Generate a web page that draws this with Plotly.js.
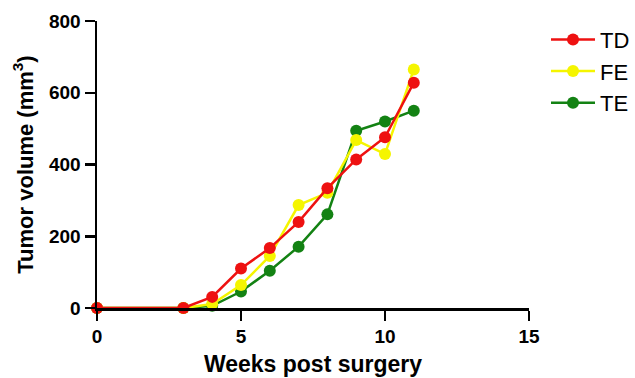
<!DOCTYPE html>
<html><head><meta charset="utf-8">
<script src="https://cdn.plot.ly/plotly-3.0.1.min.js"></script>
<style>html,body{margin:0;padding:0;background:#fff}</style>
</head><body>
<div id="chart" style="width:635px;height:378px"></div>
<script>
const weeks = [0, 3, 4, 5, 6, 7, 8, 9, 10, 11];
const TD = [0, 0, 31, 110, 167, 240, 334, 414, 476, 628];
const FE = [0, 0, 11, 64, 145, 287, 321, 468, 429, 665];
const TE = [0, 0, 6, 46, 104, 171, 261, 494, 520, 550];
const seriesNames = ['TE', 'FE', 'TD'];
const seriesColors = ['#138213', '#f5f500', '#ee1111'];
const seriesData = [TE, FE, TD];

const traces = seriesNames.map((n, i) => ({
  x: weeks, y: seriesData[i], name: n, type: 'scatter', mode: 'lines+markers',
  line: {color: seriesColors[i], width: 2.5},
  marker: {color: seriesColors[i], size: 12},
  cliponaxis: false
}));

const fontFam = 'Liberation Sans, Arial, sans-serif';
const layout = {
  width: 635, height: 378,
  margin: {l: 97, r: 0, t: 21, b: 70},
  paper_bgcolor: '#fff', plot_bgcolor: '#fff',
  showlegend: true,
  legend: {x: 1, y: 1.008, xanchor: 'right', yanchor: 'top', traceorder: 'reversed',
    font: {family: fontFam, size: 22, color: '#000'}, itemwidth: 44, borderwidth: 0},
  xaxis: {domain: [0, 432 / 538], range: [0, 15], tickvals: [0, 5, 10, 15], showgrid: false, zeroline: false,
    showline: true, linecolor: '#000', linewidth: 2.5, ticks: 'outside', ticklen: 10, tickwidth: 2.5, tickcolor: '#000',
    tickfont: {family: fontFam, size: 19, color: '#000', weight: 'bold'},
    title: {text: 'Weeks post surgery', font: {family: fontFam, size: 23, color: '#000', weight: 'bold'}, standoff: 10}},
  yaxis: {range: [0, 800], tickvals: [0, 200, 400, 600, 800], showgrid: false, zeroline: false,
    showline: true, linecolor: '#000', linewidth: 2.5, ticks: 'outside', ticklen: 10, tickwidth: 2.5, tickcolor: '#000',
    tickfont: {family: fontFam, size: 19, color: '#000', weight: 'bold'},
    title: {text: 'Tumor volume (mm<sup>3</sup>)', font: {family: fontFam, size: 22, color: '#000', weight: 'bold'}, standoff: 10}},
  font: {family: fontFam}
};
Plotly.newPlot('chart', traces, layout, {displayModeBar: false, staticPlot: true});
</script>
</body></html>
